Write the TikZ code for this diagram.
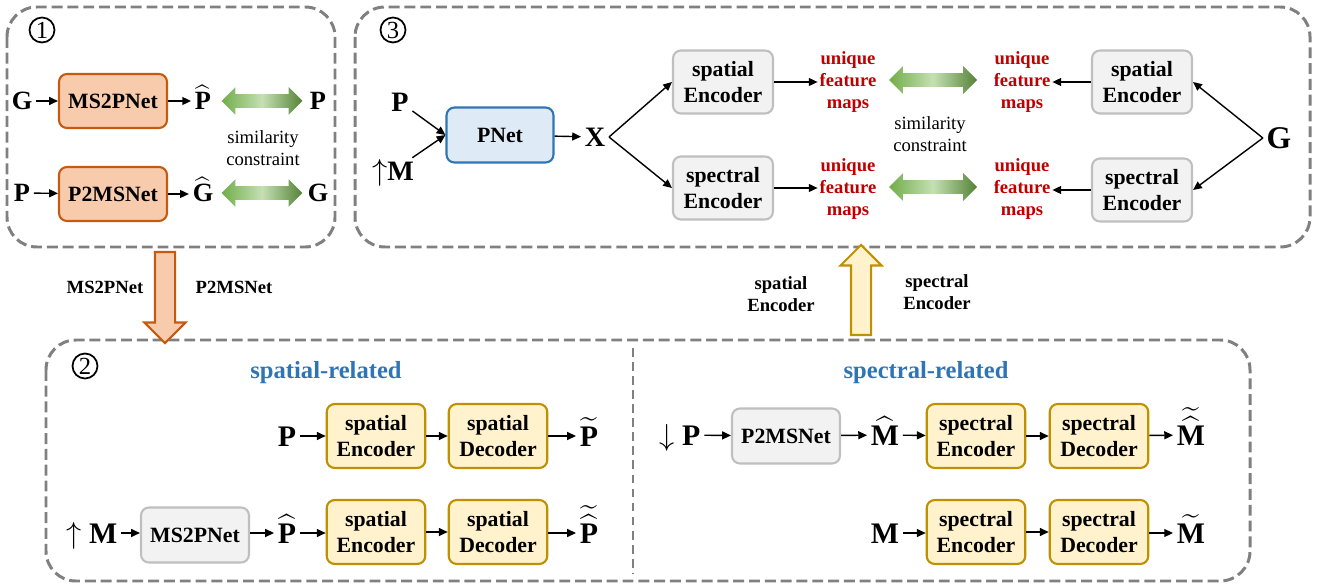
\documentclass[tikz,border=0pt]{standalone}
\usepackage{amsmath}
\usepackage{fontspec}
\setmainfont{Liberation Serif}
\usetikzlibrary{arrows.meta, positioning, shapes.arrows}

\definecolor{peach}{RGB}{248,203,173}
\definecolor{rust}{RGB}{197,90,17}
\definecolor{skyfill}{RGB}{222,235,247}
\definecolor{steel}{RGB}{46,117,182}
\definecolor{ashfill}{RGB}{242,242,242}
\definecolor{ash}{RGB}{191,191,191}
\definecolor{cream}{RGB}{255,242,204}
\definecolor{gold}{RGB}{191,144,0}
\definecolor{crimson}{RGB}{192,0,0}
\definecolor{panelgray}{RGB}{128,128,128}
\definecolor{leafA}{RGB}{112,173,71}
\definecolor{leafB}{RGB}{197,224,180}
\definecolor{leafC}{RGB}{84,130,53}

\newcommand{\boxfont}{\bfseries\fontsize{12.4}{14.8}\selectfont}
\newcommand{\lblfont}{\bfseries\fontsize{10.6}{12.5}\selectfont}

\tikzset{
  panel/.style={draw=panelgray, line width=1.7pt, dash pattern=on 6.2pt off 2.8pt, rounded corners=17pt},
  divider/.style={draw=panelgray, line width=1.2pt, dash pattern=on 5pt off 3pt},
  box/.style={draw, line width=1.2pt, rounded corners=4.5pt, align=center, font=\boxfont, inner sep=2pt},
  netbox/.style={box, fill=peach, draw=rust, minimum width=2.16cm, minimum height=1.08cm},
  pnetbox/.style={box, fill=skyfill, draw=steel, minimum width=2.14cm, minimum height=1.1cm},
  graybox/.style={box, fill=ashfill, draw=ash, minimum width=2.16cm, minimum height=1.1cm},
  encbox/.style={box, fill=ashfill, draw=ash, minimum width=2.0cm, minimum height=1.26cm},
  codebox/.style={box, fill=cream, draw=gold, minimum width=1.97cm, minimum height=1.28cm},
  letter/.style={font=\bfseries\fontsize{15}{17}\selectfont, text height=10pt, text depth=0pt, inner sep=2pt},
  letterM/.style={font=\bfseries\fontsize{16}{18}\selectfont, text height=10.7pt, text depth=0pt, inner sep=2pt},
  letterL/.style={font=\bfseries\fontsize{17}{19}\selectfont, text height=11.4pt, text depth=0pt, inner sep=2pt},
  numtag/.style={circle, draw, line width=1pt, minimum size=0.5cm, inner sep=0pt, font=\fontsize{14}{14}\selectfont},
  note/.style={align=center, font=\fontsize{10.6}{12.5}\selectfont, inner sep=1pt},
  flowlabel/.style={align=center, font=\lblfont, inner sep=1pt},
  feat/.style={align=center, font=\lblfont, text=crimson, inner sep=1pt},
  headline/.style={font=\bfseries\fontsize{14}{16}\selectfont, text=steel},
  link/.style={-{Triangle[length=5pt,width=4.5pt]}, line width=0.8pt},
  simarrow/.style={double arrow, double arrow head extend=0.14cm, inner xsep=0pt, inner ysep=0.13cm,
    left color=leafA, right color=leafC, middle color=leafB},
  flowarrow/.style={single arrow, line width=1.2pt, single arrow head extend=0.21cm,
    inner xsep=0pt, inner ysep=0.18cm},
}

\begin{document}
\begin{tikzpicture}[x=0.02cm, y=-0.02cm]
  \useasboundingbox (0,0) rectangle (1327,587);

  % dashed panels
  \draw[panel] (7,7) rectangle (335,247);
  \draw[panel] (355,7) rectangle (1310,247);
  \draw[panel] (46,340) rectangle (1250,581);
  \draw[divider] (633,348) -- (633,573);

  % --- panel 1: cross-modal nets ---
  \node[numtag] (num1) at (42,30) {1};
  \node[letter] (g1) at (22,101) {G};
  \node[netbox] (ms2p1) at (113,101) {MS2PNet};
  \node[letter] (ph1) at (203,101) {$\widehat{\textbf{P}}$};
  \node[simarrow, minimum height=1.62cm] (sim1) at (262,101) {};
  \node[letter] (p1) at (318,101) {P};
  \node[note] (cons1) at (263,148) {similarity\\constraint};

  \node[letter] (p2) at (22,193) {P};
  \node[netbox] (p2ms1) at (113,194) {P2MSNet};
  \node[letter] (gh1) at (203,193) {$\widehat{\textbf{G}}$};
  \node[simarrow, minimum height=1.62cm] (sim2) at (262,193) {};
  \node[letter] (g2) at (318,193) {G};

  \draw[link] (g1) -- (ms2p1);
  \draw[link] (ms2p1) -- (ph1);
  \draw[link] (p2) -- (p2ms1);
  \draw[link] (p2ms1.east) -- (p2ms1.east -| gh1.west);

  % --- panel 3: pansharpening net ---
  \node[numtag] (num3) at (393,30) {3};
  \node[letterM] (p3) at (400,102) {P};
  \node[letterM] (m3) at (393,171) {$\mathbf{\uparrow}$M};
  \node[pnetbox] (pnet) at (500,135) {PNet};
  \node[letterM] (x3) at (595,137) {X};
  \node[encbox] (se3a) at (723,82) {spatial\\Encoder};
  \node[encbox] (sp3a) at (723,188) {spectral\\Encoder};
  \node[feat] (u3a) at (848,82) {unique\\feature\\maps};
  \node[feat] (u3b) at (848,189) {unique\\feature\\maps};
  \node[simarrow, minimum height=1.76cm] (sim3) at (933,80) {};
  \node[simarrow, minimum height=1.76cm] (sim4) at (933,187) {};
  \node[note] (cons3) at (930,134) {similarity\\constraint};
  \node[feat] (u3c) at (1022,82) {unique\\feature\\maps};
  \node[feat] (u3d) at (1022,189) {unique\\feature\\maps};
  \node[encbox] (se3b) at (1142,82) {spatial\\Encoder};
  \node[encbox] (sp3b) at (1142,190) {spectral\\Encoder};
  \node[letter, font=\bfseries\fontsize{18}{20}\selectfont, text height=12pt] (g3) at (1279,138) {G};

  \draw[link] (p3) -- (pnet.west);
  \draw[link] (m3) -- (pnet.west);
  \draw[link] (pnet) -- (x3);
  \draw[link] (x3.east) -- (se3a.west);
  \draw[link] (x3.east) -- (sp3a.west);
  \draw[link] (se3a.east) -- (se3a.east -| u3a.west);
  \draw[link] (sp3a.east) -- (sp3a.east -| u3b.west);
  \draw[link] (se3b.west) -- (se3b.west -| u3c.east);
  \draw[link] (sp3b.west) -- (sp3b.west -| u3d.east);
  \draw[link] (g3.west) -- (se3b.east);
  \draw[link] (g3.west) -- (sp3b.east);

  % --- flow between panels ---
  \node[flowarrow, fill=peach, draw=rust, rotate=-90, minimum height=1.82cm] (down) at (165,292.5) {};
  \node[flowlabel] (lbl1) at (105,287) {MS2PNet};
  \node[flowlabel] (lbl2) at (234,287) {P2MSNet};
  \node[flowarrow, fill=cream, draw=gold, rotate=90, minimum height=1.8cm] (up) at (861,295) {};
  \node[flowlabel] (lbl3) at (781,294) {spatial\\Encoder};
  \node[flowlabel] (lbl4) at (937,292) {spectral\\Encoder};

  % --- panel 2: encoder/decoder pretraining ---
  \node[numtag] (num2) at (85,366) {2};
  \node[headline] (head1) at (326,373) {spatial-related};
  \node[headline] (head2) at (926,373) {spectral-related};

  \node[letterL] (pA) at (287,436) {P};
  \node[codebox] (seA) at (376,436) {spatial\\Encoder};
  \node[codebox] (sdA) at (498,436) {spatial\\Decoder};
  \node[letterL] (ptA) at (589,436) {$\widetilde{\textbf{P}}$};

  \node[letterL] (mB) at (92,533) {$\mathbf{\uparrow}$ M};
  \node[graybox] (ms2pB) at (195,535) {MS2PNet};
  \node[letterL] (phB) at (287,533) {$\widehat{\textbf{P}}$};
  \node[codebox] (seB) at (376,532) {spatial\\Encoder};
  \node[codebox] (sdB) at (498,532) {spatial\\Decoder};
  \node[letterL] (pthB) at (589,533) {$\widetilde{\widehat{\textbf{P}}}$};

  \node[letterL] (pC) at (680,435) {$\mathbf{\downarrow}$ P};
  \node[graybox] (p2msC) at (786,436) {P2MSNet};
  \node[letterL] (mhC) at (885,435) {$\widehat{\textbf{M}}$};
  \node[codebox] (speC) at (976,436) {spectral\\Encoder};
  \node[codebox] (spdC) at (1099,436) {spectral\\Decoder};
  \node[letterL] (mthC) at (1191,435) {$\widetilde{\widehat{\textbf{M}}}$};

  \node[letterL] (mD) at (885,533) {M};
  \node[codebox] (speD) at (976,532) {spectral\\Encoder};
  \node[codebox] (spdD) at (1099,532) {spectral\\Decoder};
  \node[letterL] (mtD) at (1191,533) {$\widetilde{\textbf{M}}$};

  \draw[link] (pA) -- (seA);
  \draw[link] (seA) -- (sdA);
  \draw[link] (sdA) -- (ptA);
  \draw[link] (mB) -- (mB -| ms2pB.west);
  \draw[link] (ms2pB.east |- phB) -- (phB);
  \draw[link] (phB) -- (phB -| seB.west);
  \draw[link] (seB) -- (sdB);
  \draw[link] (sdB.east |- pthB) -- (pthB);
  \draw[link] (pC) -- (p2msC);
  \draw[link] (p2msC) -- (mhC);
  \draw[link] (mhC) -- (speC);
  \draw[link] (speC) -- (spdC);
  \draw[link] (spdC) -- (mthC);
  \draw[link] (mD) -- (mD -| speD.west);
  \draw[link] (speD) -- (spdD);
  \draw[link] (spdD.east |- mtD) -- (mtD);
\end{tikzpicture}
\end{document}
